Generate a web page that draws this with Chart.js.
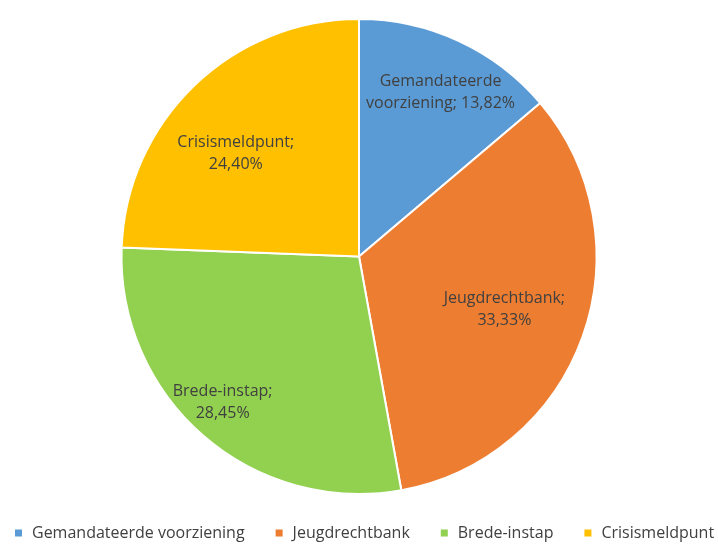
<!DOCTYPE html>
<html>
<head>
<meta charset="utf-8">
<script src="https://cdn.jsdelivr.net/npm/chart.js@4/dist/chart.umd.min.js"></script>
<style>
  html, body { margin: 0; padding: 0; background: #fff; }
  #wrap { width: 718px; height: 546px; }
</style>
</head>
<body>
<div id="wrap"><canvas id="pieChart"></canvas></div>
<script>
// chart data
const categories = ['Gemandateerde voorziening', 'Jeugdrechtbank', 'Brede-instap', 'Crisismeldpunt'];
const shares = [13.82, 33.33, 28.45, 24.40];
const sliceColors = ['#5B9BD5', '#ED7D31', '#92D050', '#FFC000'];

// label text lines per slice (excel style "name; value")
function labelLines(i) {
    const pct = shares[i].toFixed(2).replace('.', ',') + '%';
    if (i == 0) return ['Gemandateerde', 'voorziening; ' + pct];
    return [categories[i] + ';', pct];
}
// where the label sits: part of the radius, and a small turn (degrees) off the slice middle
const labelDist = [0.77, 0.652, 0.841, 0.677];
const labelTurn = [1.6, 0.4, 2.1, -6.1];
const textFont = '16px "Open Sans"';

const sliceLabels = {
    id: 'sliceLabels',
    afterDatasetsDraw(chart) {
        const ctx = chart.ctx;
        const meta = chart.getDatasetMeta(0);
        ctx.save();
        ctx.font = textFont;
        ctx.fillStyle = '#404040';
        ctx.textAlign = 'center';
        ctx.textBaseline = 'middle';
        meta.data.forEach(function(arc, i) {
            const mid = (arc.startAngle + arc.endAngle) / 2 + labelTurn[i] * Math.PI / 180;
            const r = arc.outerRadius * labelDist[i];
            const x = arc.x + Math.cos(mid) * r;
            const y = arc.y + Math.sin(mid) * r;
            const lines = labelLines(i);
            ctx.fillText(lines[0], x, y - 11);
            ctx.fillText(lines[1], x, y + 11);
        });
        ctx.restore();
    }
};

// simple legend under the pie, drawn from the chart's own labels and colours
const bottomLegend = {
    id: 'bottomLegend',
    afterDraw(chart) {
        const ctx = chart.ctx;
        const labels = chart.data.labels;
        const colors = chart.data.datasets[0].backgroundColor;
        const gap = 31, box = 7, boxGap = 10;
        ctx.save();
        ctx.font = textFont;
        let x = 15;
        const y = 533;
        ctx.textBaseline = 'middle';
        labels.forEach(function(l, i) {
            ctx.fillStyle = colors[i];
            ctx.fillRect(x, y - box / 2, box, box);
            x += box + boxGap;
            ctx.fillStyle = '#404040';
            ctx.fillText(l, x, y);
            x += ctx.measureText(l).width + gap;
        });
        ctx.restore();
    }
};

var ctx = document.getElementById('pieChart').getContext('2d');
var myChart = new Chart(ctx, {
    type: 'pie',
    data: {
        labels: categories,
        datasets: [{
            data: shares,
            backgroundColor: sliceColors,
            borderColor: '#ffffff',
            borderWidth: 2
        }]
    },
    options: {
        responsive: true,
        maintainAspectRatio: false,
        animation: false,
        layout: { padding: { top: 18, bottom: 51 } },
        plugins: {
            tooltip: { enabled: false },
            legend: { display: false }
        }
    },
    plugins: [sliceLabels, bottomLegend]
});
</script>
</body>
</html>
